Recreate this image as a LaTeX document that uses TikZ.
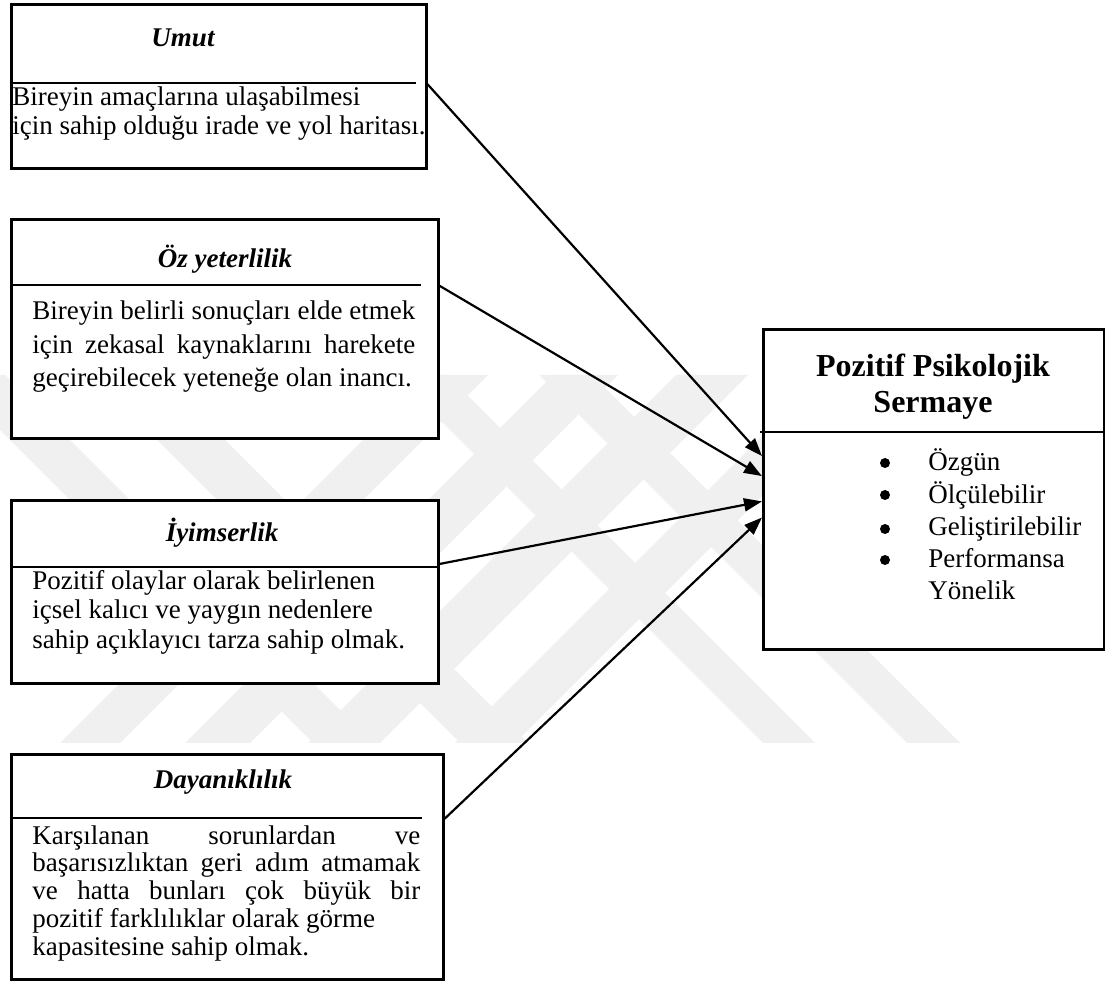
\documentclass[tikz,border=0pt]{standalone}
\usepackage{fontspec}
\setmainfont{Liberation Serif}
\usetikzlibrary{arrows.meta,calc}

% a block of text whose first baseline is the node's base
\newcommand\txtblock[3]{\parbox[t]{#1}{\fontsize{13.5}{#2}\selectfont #3}}
\newcommand\spreadline[2]{\makebox[#1][s]{#2}}

\begin{document}
\begin{tikzpicture}[x=0.5pt,y=-0.5pt,
  box/.style={draw=black, line width=1.3pt, fill=white, inner sep=0pt,
              anchor=north west, rectangle},
  divider/.style={line width=0.6pt},
  link/.style={line width=1.1pt, -{Triangle[length=9pt,width=6.5pt]}},
  stripe/.style={fill=black!6, draw=none},
  heading/.style={font=\fontsize{13.5}{16}\selectfont\bfseries\itshape,
                  anchor=base, inner sep=0pt},
  body/.style={anchor=base west, inner sep=0pt},
  listdot/.style={fill=black},
]
\useasboundingbox (0,0) rectangle (1105,984);

% faint striped emblem in the background
\begin{scope}
  \clip (0,375) rectangle (1105,743);
  \foreach \a/\b in {60/120,185/250,308/380,455/515}
    \fill[stripe] (\a,743) -- (\b,743) -- ({\b+368},375) -- ({\a+368},375) -- cycle;
  \foreach \c/\d in {-55/5,92/160,395/447,539/592}
    \fill[stripe] (\c,375) -- (\d,375) -- ({\d+368},743) -- ({\c+368},743) -- cycle;
\end{scope}

% the four components
\node[box, minimum width=207.5pt, minimum height=82pt] (umut) at (10,3) {};
\node[box, minimum width=213.5pt, minimum height=109.5pt] (oz) at (10,218) {};
\node[box, minimum width=213.5pt, minimum height=91.5pt] (iyi) at (10,499) {};
\node[box, minimum width=216pt, minimum height=112.5pt] (day) at (10,753) {};
% the resulting construct
\node[box, minimum width=170.5pt, minimum height=160pt] (pps) at (762,328) {};

% dividers under the headings
\draw[divider] (10,83) -- (416,83);
\draw[divider] (10,285) -- (421,285);
\draw[divider] (10,567) -- (437,567);
\draw[divider] (10,818) -- (422,818);
\draw[divider] (760,432) -- (1103,432);

% headings
\node[heading] (umutT) at (183,47) {Umut};
\node[heading] (ozT) at (225,268) {Öz yeterlilik};
\node[heading] (iyiT) at (222,542) {İyimserlik};
\node[heading] (dayT) at (223,788) {Dayanıklılık};

% descriptions
\node[body] (umutB) at (12,106) {\txtblock{215pt}{14.5pt}{%
  Bireyin amaçlarına ulaşabilmesi\\
  için sahip olduğu irade ve yol haritası.}};
\node[body] (ozB) at (32,320) {\txtblock{195pt}{16.75pt}{%
  \spreadline{191.5pt}{Bireyin belirli sonuçları elde etmek}\\
  \spreadline{191.5pt}{için zekasal kaynaklarını harekete}\\
  geçirebilecek yeteneğe olan inancı.}};
\node[body] (iyiB) at (32,590) {\txtblock{200pt}{14.5pt}{%
  Pozitif olaylar olarak belirlenen\\
  içsel kalıcı ve yaygın nedenlere\\
  sahip açıklayıcı tarza sahip olmak.}};
\node[body] (dayB) at (32,844) {\txtblock{200pt}{13.9pt}{%
  \spreadline{194pt}{Karşılanan sorunlardan ve}\\
  \spreadline{194pt}{başarısızlıktan geri adım atmamak}\\
  \spreadline{194pt}{ve hatta bunları çok büyük bir}\\
  pozitif farklılıklar olarak görme\\
  kapasitesine sahip olmak.}};

% construct title and its properties
\node[anchor=base, inner sep=0pt] (ppsT) at (933,377) {\parbox[t]{165pt}{\centering
  \fontsize{16}{18}\selectfont\bfseries Pozitif Psikolojik\\ Sermaye}};
\node[body] (ppsItems) at (928,471) {\txtblock{90pt}{16.1pt}{%
  Özgün\\ Ölçülebilir\\ Geliştirilebilir\\ Performansa\\ Yönelik}};
\foreach \y in {463,495,529,560}
  \fill[listdot] (885,\y) circle (2.5pt);

% links into the construct
\draw[link] ($(umut.north east)!0.488!(umut.south east)$) -- ($(pps.north west)!0.397!(pps.south west)$);
\draw[link] ($(oz.north east)!0.306!(oz.south east)$) -- ($(pps.north west)!0.459!(pps.south west)$);
\draw[link] ($(iyi.north east)!0.350!(iyi.south east)$) -- ($(pps.north west)!0.5375!(pps.south west)$);
\draw[link] ($(day.north east)!0.289!(day.south east)$) -- ($(pps.north west)!0.5875!(pps.south west)$);
\end{tikzpicture}
\end{document}
